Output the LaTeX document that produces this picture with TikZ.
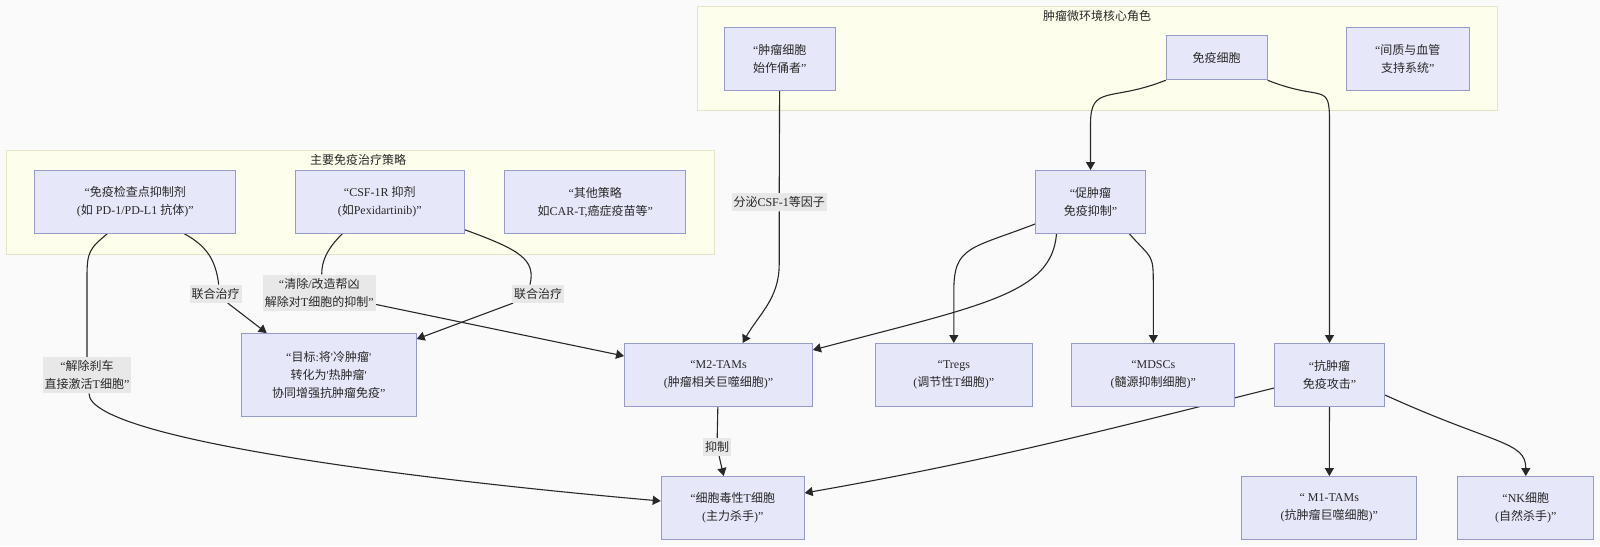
\documentclass[tikz,border=0pt]{standalone}
\usepackage{fontspec}
\setmainfont{Liberation Serif}[Ligatures=TeXOff]
\newfontfamily\cjkfont{Noto Sans CJK SC}
\usetikzlibrary{
  arrows.meta,
}

\definecolor{pagebg}{RGB}{250,250,251}
\definecolor{cellfill}{RGB}{230,232,249}
\definecolor{cellline}{RGB}{150,155,200}
\definecolor{groupfill}{RGB}{254,254,236}
\definecolor{groupline}{RGB}{230,228,200}
\definecolor{tagfill}{RGB}{232,232,232}
\definecolor{ink}{RGB}{40,40,40}

% switch to the CJK family for ideographs
\XeTeXinterchartokenstate=1
\newXeTeXintercharclass\cjkclass
\newcount\cjkcode
\cjkcode="4E00
\loop
  \XeTeXcharclass\cjkcode=\cjkclass
  \advance\cjkcode by 1
\ifnum\cjkcode<"A000 \repeat
\XeTeXcharclass"201C=0
\XeTeXcharclass"201D=0
\XeTeXinterchartoks 0 \cjkclass={\begingroup\cjkfont}
\XeTeXinterchartoks 4095 \cjkclass={\begingroup\cjkfont}
\XeTeXinterchartoks \cjkclass 0={\endgroup}
\XeTeXinterchartoks \cjkclass 4095={\endgroup}

\pgfdeclarelayer{bg}
\pgfdeclarelayer{wires}
\pgfsetlayers{bg,wires,main}

\tikzset{
  cell/.style={draw=cellline, fill=cellfill, line width=0.9pt, inner sep=0pt,
    minimum height=63pt, align=center, text=ink, font=\fontsize{12}{18}\selectfont},
  cluster/.style={draw=groupline, fill=groupfill, line width=0.8pt},
  heading/.style={text=ink, font=\fontsize{12}{18}\selectfont},
  edgetag/.style={fill=tagfill, inner xsep=2pt, inner ysep=3.5pt, align=center,
    text=ink, font=\fontsize{12}{18}\selectfont},
  wire/.style={draw=ink, line width=1.1pt},
  flow/.style={wire, -{Triangle[length=8pt,width=9pt]}},
}

\begin{document}
\begin{tikzpicture}[x=1pt,y=1pt]
\useasboundingbox (0,0) rectangle (1600,-546);
\begin{pgfonlayer}{bg}
\fill[pagebg] (0,0) rectangle (1600,-546);
\draw[cluster] (697,-6.5) rectangle (1497,-110);
\draw[cluster] (6,-150) rectangle (714,-254);
\end{pgfonlayer}

\node[heading] (coretitle) at (1097,-16) {肿瘤微环境核心角色};
\node[heading] (therapytitle) at (358,-160) {主要免疫治疗策略};

\node[cell, minimum width=111pt] (tumor) at (779.7,-58.7) {“肿瘤细胞\\始作俑者”};
\node[cell, minimum width=101pt, minimum height=44pt] (immune) at (1216.7,-57.8) {免疫细胞};
\node[cell, minimum width=123pt] (stroma) at (1407.7,-58.7) {“间质与血管\\支持系统”};
\node[cell, minimum width=201pt] (ici) at (135.3,-201.8) {“免疫检查点抑制剂\\(如 PD-1/PD-L1 抗体)”};
\node[cell, minimum width=169pt] (csf) at (379.8,-201.8) {“CSF-1R 抑剂\\(如Pexidartinib)”};
\node[cell, minimum width=181pt] (other) at (595.3,-202) {“其他策略\\如CAR-T,癌症疫苗等”};
\node[cell, minimum width=110pt] (pro) at (1090.5,-202) {“促肿瘤\\免疫抑制”};
\node[cell, minimum width=175pt, minimum height=83pt] (goal) at (328.7,-375) {“目标:将'冷肿瘤'\\转化为'热肿瘤'\\协同增强抗肿瘤免疫”};
\node[cell, minimum width=188pt] (m2) at (718.5,-375) {“M2-TAMs\\(肿瘤相关巨噬细胞)”};
\node[cell, minimum width=157pt] (tregs) at (953.8,-375) {“Tregs\\(调节性T细胞)”};
\node[cell, minimum width=163pt] (mdsc) at (1153.3,-375) {“MDSCs\\(髓源抑制细胞)”};
\node[cell, minimum width=110pt] (anti) at (1329.5,-375) {“抗肿瘤\\免疫攻击”};
\node[cell, minimum width=143pt] (ctl) at (732.7,-508) {“细胞毒性T细胞\\(主力杀手)”};
\node[cell, minimum width=175pt] (m1) at (1329.3,-508) {“ M1-TAMs\\(抗肿瘤巨噬细胞)”};
\node[cell, minimum width=136pt] (nk) at (1525.8,-508) {“NK细胞\\(自然杀手)”};

\node[edgetag] (secrete) at (779.2,-202.2) {分泌CSF-1等因子};
\node[edgetag] (combo1) at (215.7,-293.8) {联合治疗};
\node[edgetag] (combo2) at (538,-293.8) {联合治疗};
\node[edgetag] (clear) at (319.3,-292.7) {“清除/改造帮凶\\解除对T细胞的抑制”};
\node[edgetag] (brake) at (87,-375.3) {“解除刹车\\直接激活T细胞”};
\node[edgetag] (inhibit) at (717,-447) {抑制};

\begin{pgfonlayer}{wires}
\draw[wire] (tumor) -- (secrete);
\draw[flow] (secrete) -- ++(0,-62) to[out=-90,in=60] ([xshift=24pt]m2.north);
\draw[flow] (immune.south west) .. controls +(-55,-22) and +(0,40) .. ([yshift=46pt]pro.north) -- (pro.north);
\draw[flow] (immune.south east) .. controls +(55,-22) and +(0,40) .. ([yshift=222pt]anti.north) -- (anti.north);
\draw[flow] ([yshift=-22pt]pro.west) .. controls +(-65,-25) and +(0,45) .. ([yshift=52pt]tregs.north) -- (tregs.north);
\draw[flow] ([xshift=-34pt]pro.south) .. controls +(-5,-60) and +(170,45) .. ([yshift=25pt]m2.east);
\draw[flow] ([xshift=39pt]pro.south) .. controls +(22,-25) and +(0,30) .. ([yshift=60pt]mdsc.north) -- (mdsc.north);
\draw[flow] (anti) -- (m1);
\draw[flow] ([yshift=-20pt]anti.east) .. controls +(110,-50) and +(0,35) .. (nk.north);
\draw[flow] ([yshift=-13pt]anti.west) to[out=194,in=10] ([yshift=15pt]ctl.east);
\draw[wire] (m2) -- (inhibit);
\draw[flow] (inhibit) -- ([xshift=-9pt]ctl.north);
\draw[wire] ([xshift=49pt]ici.south) .. controls +(22,-12) and +(-3,25) .. ([xshift=3pt]combo1.north);
\draw[flow] (combo1) -- ([xshift=-62pt]goal.north);
\draw[wire] ([yshift=4pt]csf.south east) .. controls +(55,-20) and +(6,25) .. ([xshift=-8pt]combo2.north);
\draw[flow] (combo2) -- ([yshift=-6pt]goal.north east);
\draw[wire] ([xshift=-37.5pt]csf.south) .. controls +(-15,-15) and +(0,14) .. ([xshift=2.4pt]clear.north);
\draw[flow] (clear) -- ([yshift=19pt]m2.west);
\draw[wire] ([xshift=-28pt]ici.south) .. controls +(-18,-15) and +(0,25) .. ([yshift=80pt]brake.north) -- (brake.north);
\draw[flow] ([xshift=2pt]brake.south) .. controls +(0,-45) and +(-250,22) .. ([yshift=7pt]ctl.west);
\end{pgfonlayer}
\end{tikzpicture}
\end{document}
